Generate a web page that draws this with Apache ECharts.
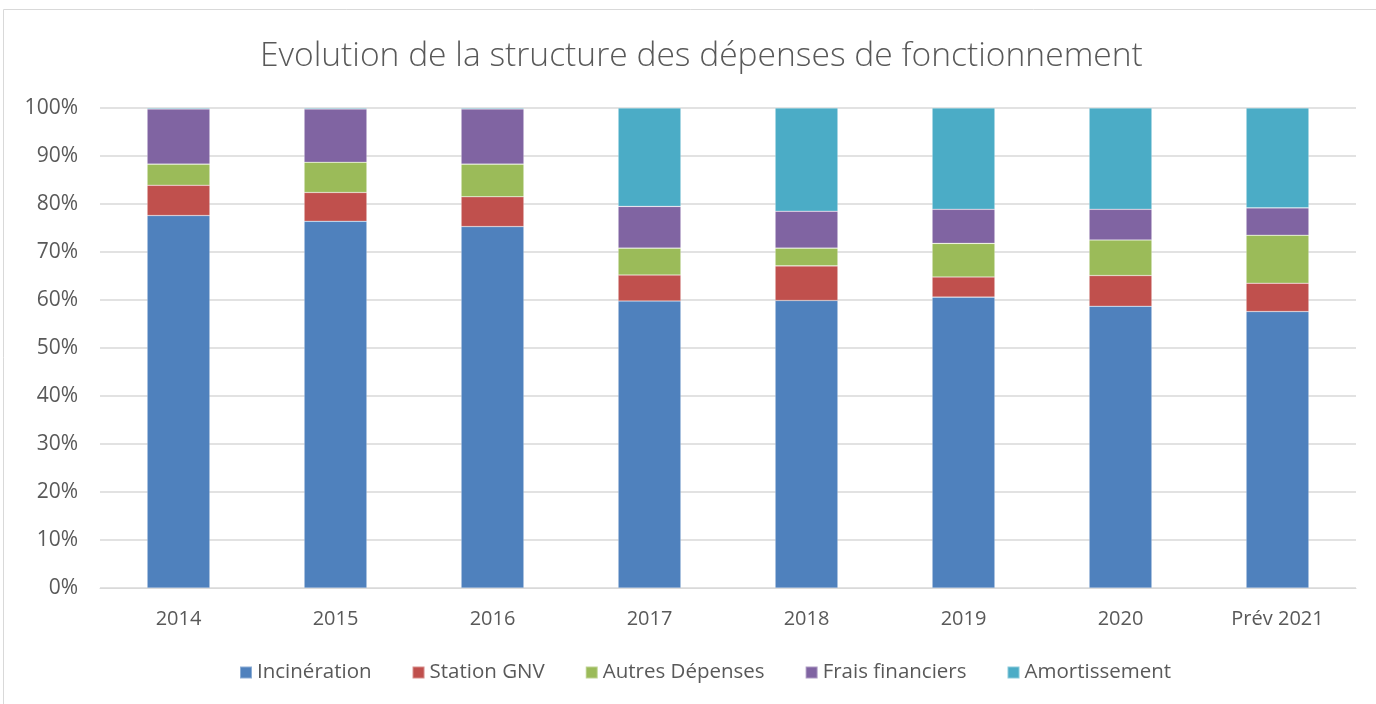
<!DOCTYPE html>
<html><head><meta charset="utf-8">
<script src="https://cdn.jsdelivr.net/npm/echarts@6/dist/echarts.min.js"></script>
<style>html,body{margin:0;padding:0;background:#fff}#c{width:1376px;height:704px}</style>
</head><body><div id="c"></div>
<script>
const categories = ['2014','2015','2016','2017','2018','2019','2020','Prév 2021'];
const incineration = [77.6, 76.4, 75.3, 59.8, 59.9, 60.6, 58.7, 57.6];
const stationGNV = [6.3, 6.0, 6.2, 5.4, 7.2, 4.2, 6.4, 5.9];
const autresDepenses = [4.4, 6.3, 6.8, 5.6, 3.7, 7.0, 7.4, 10.0];
const fraisFinanciers = [11.5, 11.1, 11.5, 8.7, 7.7, 7.1, 6.4, 5.7];
const amortissement = [0.2, 0.2, 0.2, 20.5, 21.5, 21.1, 21.1, 20.8];
const yTicks = [0,10,20,30,40,50,60,70,80,90,100];

const names = ['Incinération','Station GNV','Autres Dépenses','Frais financiers','Amortissement'];
const colors = ['#4F81BD','#C0504D','#9BBB59','#8064A2','#4BACC6'];
const datas = [incineration, stationGNV, autresDepenses, fraisFinanciers, amortissement];

const chart = echarts.init(document.getElementById('c'));
const font = "'Open Sans', sans-serif";
chart.setOption({
  animation:false,
  color: colors,
  textStyle:{fontFamily:font},
  graphic:[{type:'rect',shape:{x:3.5,y:9.5,width:1380,height:700},style:{fill:'none',stroke:'#d9d9d9',lineWidth:1}}],
  title:{text:'Evolution de la structure des dépenses de fonctionnement',left:255,top:34,
    textStyle:{fontFamily:font,fontWeight:300,fontSize:33.6,color:'#595959'}},
  legend:{bottom:16,left:234,itemWidth:12,itemHeight:12,itemGap:40,icon:'rect',
    textStyle:{fontFamily:font,fontSize:20.5,color:'#595959'},data:names},
  grid:{left:100,right:20,top:108,bottom:116},
  xAxis:{type:'category',data:categories,
    axisLine:{lineStyle:{color:'#d9d9d9'}},axisTick:{show:false},
    axisLabel:{fontSize:20,color:'#595959',margin:21,fontFamily:font}},
  yAxis:{type:'value',min:0,max:100,interval:10,
    axisLine:{show:false},axisTick:{show:false},
    splitLine:{lineStyle:{color:'#d9d9d9',width:1.5}},
    axisLabel:{fontSize:21,color:'#595959',margin:22,fontFamily:font,formatter:v=>yTicks.includes(v)?v+'%':''}},
  series: names.map((n,i)=>({name:n,type:'bar',stack:'s',barWidth:'40%',data:datas[i],
    itemStyle:{color:colors[i],borderColor:'rgba(255,255,255,0.35)',borderWidth:0.6}}))
});
</script></body></html>
